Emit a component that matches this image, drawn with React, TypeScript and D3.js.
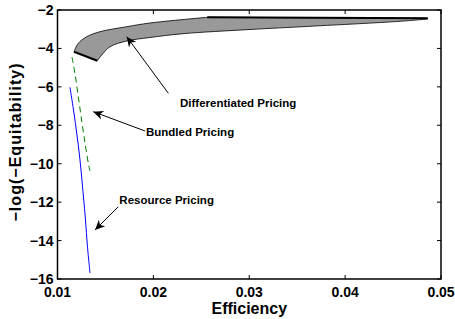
import * as d3 from "d3";

const width = 455;
const height = 319;
const plotLeft = 57.5;
const plotRight = 441;
const plotTop = 10;
const plotBottom = 279;

// axis ticks
const xTicks = [0.01, 0.02, 0.03, 0.04, 0.05];
const yTicks = [-2, -4, -6, -8, -10, -12, -14, -16];

// Differentiated pricing region (upper edge, then lower edge, both left to right)
const diffUpperX = [0.01172, 0.01217, 0.01305, 0.01443, 0.01722, 0.01965, 0.02562];
const diffUpperY = [-4.17, -3.733, -3.39, -3.129, -2.869, -2.677, -2.38];
const diffTopEndX = 0.04861;
const diffTopEndY = -2.43;
const diffLowerX = [0.01415, 0.01461, 0.01548, 0.01722, 0.01965, 0.02309, 0.03008, 0.03634, 0.04573, 0.04861];
const diffLowerY = [-4.639, -4.342, -3.91, -3.613, -3.431, -3.233, -3.015, -2.848, -2.588, -2.468];

// Bundled pricing (dashed green)
const bundledX = [0.01151, 0.01183, 0.01219, 0.01256, 0.01292, 0.01323, 0.01339];
const bundledY = [-4.446, -5.331, -6.58, -7.881, -9.078, -10.015, -10.379];

// Resource pricing (blue)
const resourceX = [0.0113, 0.01167, 0.01203, 0.01229, 0.0125, 0.01271, 0.01292, 0.01311, 0.01339];
const resourceY = [-6.023, -7.205, -8.506, -9.547, -10.588, -11.732, -12.929, -14.231, -15.688];

// annotations: label, text anchor point, arrow tail, arrow head (data units)
const annotations = [
  { label: "Differentiated Pricing", tx: 0.02278, ty: -6.84, x1: 0.02156, y1: -6.335, x2: 0.01722, y2: -3.39 },
  { label: "Bundled Pricing", tx: 0.01923, ty: -8.35, x1: 0.01913, y1: -8.297, x2: 0.01373, y2: -7.293 },
  { label: "Resource Pricing", tx: 0.01645, ty: -11.89, x1: 0.01634, y1: -12.24, x2: 0.01391, y2: -13.45 },
];

const font = "'Liberation Sans', Arial, Helvetica, sans-serif";

const App = () => {
  const xScale = d3.scaleLinear().domain([0.01, 0.05]).range([plotLeft, plotRight]);
  const yScale = d3.scaleLinear().domain([-16, -2]).range([plotBottom, plotTop]);

  const curve = d3
    .line<[number, number]>()
    .x((d) => xScale(d[0]))
    .y((d) => yScale(d[1]))
    .curve(d3.curveCatmullRom);

  const upper = diffUpperX.map((x, i) => [x, diffUpperY[i]] as [number, number]);
  const lower = diffLowerX.map((x, i) => [x, diffLowerY[i]] as [number, number]);
  const lowerRev = [...lower].reverse();

  const regionPath =
    curve(upper) +
    `L${xScale(diffTopEndX)},${yScale(diffTopEndY)}` +
    "L" +
    (curve(lowerRev) as string).slice(1) +
    "Z";

  const bundled = bundledX.map((x, i) => [x, bundledY[i]] as [number, number]);
  const resource = resourceX.map((x, i) => [x, resourceY[i]] as [number, number]);

  const tickFmt = d3.format(".2f");
  const tickLen = 4;

  const arrowHead = (x1: number, y1: number, x2: number, y2: number) => {
    const ang = Math.atan2(y2 - y1, x2 - x1);
    const len = 10;
    const half = 4.5;
    const bx = x2 - len * Math.cos(ang);
    const by = y2 - len * Math.sin(ang);
    const nx = -Math.sin(ang);
    const ny = Math.cos(ang);
    const notchX = x2 - len * 0.7 * Math.cos(ang);
    const notchY = y2 - len * 0.7 * Math.sin(ang);
    return `M${x2},${y2}L${bx + nx * half},${by + ny * half}L${notchX},${notchY}L${bx - nx * half},${by - ny * half}Z`;
  };

  return (
    <svg
      width={width}
      height={height}
      viewBox={`0 0 ${width} ${height}`}
      style={{ position: "absolute", left: 0, top: 0, background: "#fff" }}
    >
      <rect x={0} y={0} width={width} height={height} fill="#fff" />

      {/* differentiated pricing region */}
      <path d={regionPath} fill="#999" stroke="#000" strokeWidth={0.8} />
      <line
        x1={xScale(diffUpperX[diffUpperX.length - 1])}
        y1={yScale(diffUpperY[diffUpperY.length - 1])}
        x2={xScale(diffTopEndX)}
        y2={yScale(diffTopEndY)}
        stroke="#000"
        strokeWidth={2}
      />
      <line
        x1={xScale(diffUpperX[0])}
        y1={yScale(diffUpperY[0])}
        x2={xScale(diffLowerX[0])}
        y2={yScale(diffLowerY[0])}
        stroke="#000"
        strokeWidth={2}
      />

      {/* bundled pricing */}
      <path d={curve(bundled) as string} fill="none" stroke="#008000" strokeWidth={1} strokeDasharray="6,4" />

      {/* resource pricing */}
      <path d={curve(resource) as string} fill="none" stroke="#0000ff" strokeWidth={1} />

      {/* axes box */}
      <rect
        x={plotLeft}
        y={plotTop}
        width={plotRight - plotLeft}
        height={plotBottom - plotTop}
        fill="none"
        stroke="#000"
        strokeWidth={1.5}
      />
      <g className="x-ticks">
        {xTicks.map((t) => (
          <g key={t}>
            <line x1={xScale(t)} x2={xScale(t)} y1={plotBottom} y2={plotBottom - tickLen} stroke="#000" />
            <line x1={xScale(t)} x2={xScale(t)} y1={plotTop} y2={plotTop + tickLen} stroke="#000" />
            <text
              x={xScale(t)}
              y={297}
              textAnchor="middle"
              fontFamily={font}
              fontWeight="bold"
              fontSize={14}
            >
              {tickFmt(t)}
            </text>
          </g>
        ))}
      </g>
      <g className="y-ticks">
        {yTicks.map((t) => (
          <g key={t}>
            <line x1={plotLeft} x2={plotLeft + tickLen} y1={yScale(t)} y2={yScale(t)} stroke="#000" />
            <line x1={plotRight} x2={plotRight - tickLen} y1={yScale(t)} y2={yScale(t)} stroke="#000" />
            <text
              x={plotLeft - 4}
              y={yScale(t)}
              dy="0.36em"
              textAnchor="end"
              fontFamily={font}
              fontWeight="bold"
              fontSize={14}
            >
              {d3.format("d")(t)}
            </text>
          </g>
        ))}
      </g>

      {/* axis labels */}
      <text
        x={(plotLeft + plotRight) / 2}
        y={314}
        textAnchor="middle"
        fontFamily={font}
        fontWeight="bold"
        fontSize={16}
      >
        Efficiency
      </text>
      <text
        transform={`translate(21,${(plotTop + plotBottom) / 2 - 2}) rotate(-90)`}
        textAnchor="middle"
        fontFamily={font}
        fontWeight="bold"
        fontSize={16}
        textLength={158}
        lengthAdjust="spacing"
      >
        −log(−Equitability)
      </text>

      {/* annotations */}
      {annotations.map((a) => {
        const x1 = xScale(a.x1);
        const y1 = yScale(a.y1);
        const x2 = xScale(a.x2);
        const y2 = yScale(a.y2);
        return (
          <g key={a.label}>
            <line x1={x1} y1={y1} x2={x2} y2={y2} stroke="#000" strokeWidth={1} />
            <path d={arrowHead(x1, y1, x2, y2)} fill="#000" />
            <text
              x={xScale(a.tx)}
              y={yScale(a.ty)}
              dy="0.36em"
              fontFamily={font}
              fontWeight="bold"
              fontSize={11.5}
            >
              {a.label}
            </text>
          </g>
        );
      })}
    </svg>
  );
};

export default App;
